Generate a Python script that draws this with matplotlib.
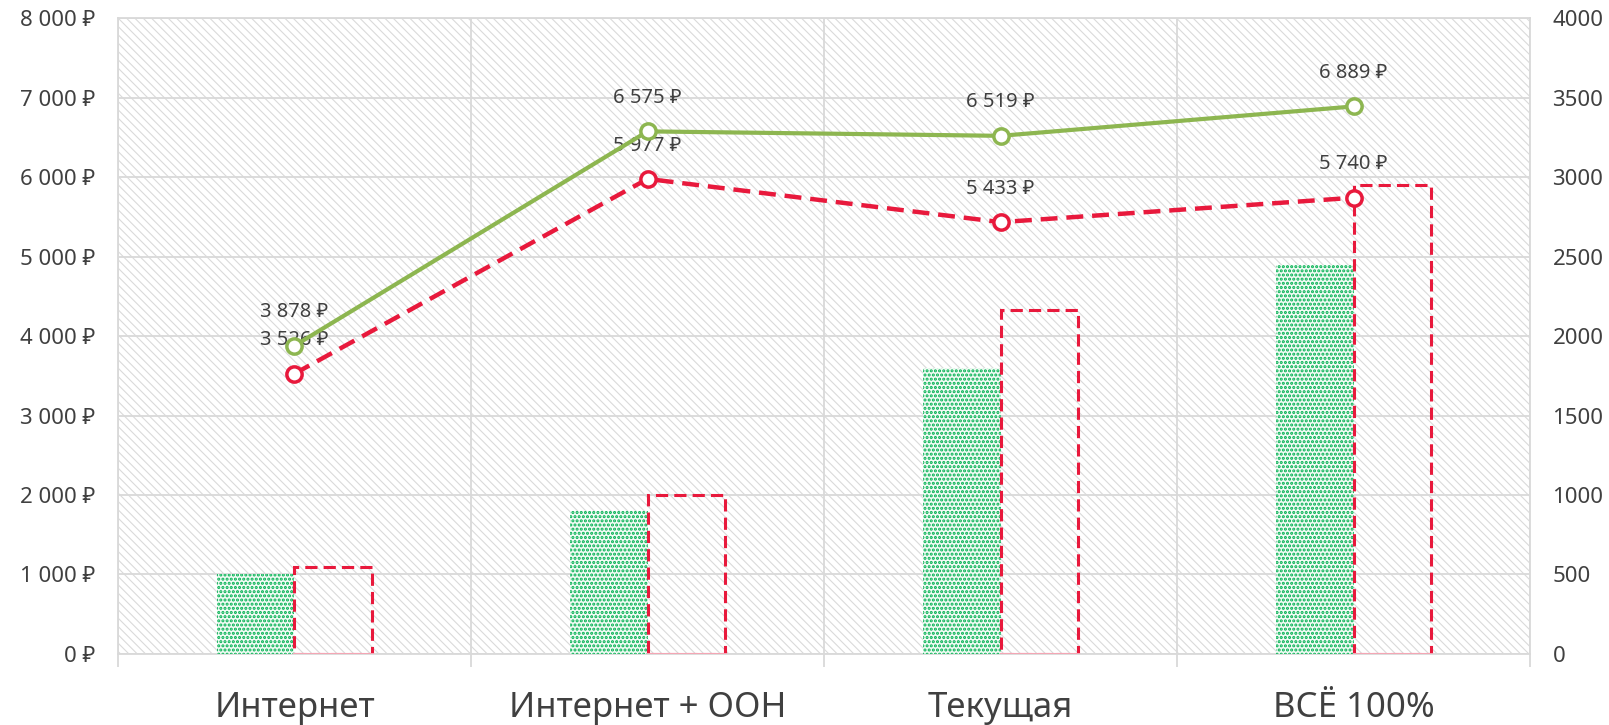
import matplotlib.pyplot as plt
from matplotlib.patches import Rectangle
from matplotlib.ticker import FixedLocator

plt.rcParams['font.family'] = ['Noto Sans', 'DejaVu Sans']
plt.rcParams['hatch.linewidth'] = 0.8

# data
categories = ["Интернет", "Интернет + ООН", "Текущая", "ВСЁ 100%"]
green_bars = [500, 900, 1800, 2450]      # right axis
red_bars = [550, 1000, 2165, 2950]       # right axis
green_line = [3878, 6575, 6519, 6889]    # left axis, ₽
red_line = [3526, 5977, 5433, 5740]      # left axis, ₽

GREEN_BAR = "#00B050"
GREEN_LINE = "#8DB650"
RED = "#E8193C"
GRID = "#D9D9D9"
TXT = "#404040"

def rub(v):
    return f"{v:,.0f}".replace(",", " ") + " ₽"

fig = plt.figure(figsize=(16.09, 7.25), dpi=100)
ax = fig.add_axes([0.0733, 0.098, 0.8777, 0.877])   # bars, values on right side
ax2 = ax.twinx()                                     # lines, values on left side

x = list(range(len(categories)))
w = 0.22

# hatched background
bg = Rectangle((0, 0), 1, 1, transform=ax.transAxes, facecolor="white",
               edgecolor="#DADADA", hatch="\\\\\\\\", linewidth=0, zorder=0)
ax.add_patch(bg)

gb = ax.bar([i - w / 2 for i in x], green_bars, width=w, facecolor="#F2FBF5",
            edgecolor=GREEN_BAR, hatch="....", linewidth=0, zorder=3)
for p in gb:
    if hasattr(p, "set_hatch_linewidth"):
        p.set_hatch_linewidth(1.5)
rb = ax.bar([i + w / 2 for i in x], red_bars, width=w, facecolor="none",
            edgecolor=RED, linestyle=(0, (4, 2)), linewidth=2.2, zorder=3)
# lighter bottom edge of the dashed boxes
for i in x:
    ax.plot([i, i + w], [0, 0], color="#F4A6B4", linewidth=2.2, zorder=4)

ax.set_xlim(-0.5, len(categories) - 0.5)
ax.set_ylim(0, 4000)
ax.set_yticks(range(0, 4001, 500))
ax.yaxis.tick_right()
ax.yaxis.set_label_position("right")
ax.grid(axis="y", color=GRID, linewidth=1.3, zorder=1)
ax.set_axisbelow(False)

ax.set_xticks(x)
ax.set_xticklabels(categories, fontsize=25, color=TXT)
ax.xaxis.set_minor_locator(FixedLocator([i - 0.5 for i in range(len(categories) + 1)]))
ax.tick_params(axis="x", which="major", length=0, pad=27)
ax.tick_params(axis="x", which="minor", length=9, color=GRID, width=1.3)
ax.grid(axis="x", which="minor", color=GRID, linewidth=1.3)
ax.tick_params(axis="y", length=0, labelsize=16, labelcolor=TXT, pad=16)
for s in ax.spines.values():
    s.set_color(GRID)
    s.set_linewidth(1.3)

# lines
ax2.plot(x, green_line, color=GREEN_LINE, linewidth=3, marker="o", markersize=11,
         markerfacecolor="white", markeredgewidth=2.5, zorder=5)
ax2.plot(x, red_line, color=RED, linewidth=3.2, linestyle=(0, (3.8, 2)), marker="o",
         markersize=11, markerfacecolor="white", markeredgewidth=2.5, zorder=5)
for i in x:
    ax2.annotate(rub(green_line[i]), (i, green_line[i]), xytext=(0, 24),
                 textcoords="offset points", ha="center", va="center",
                 fontsize=14.5, color=TXT)
    ax2.annotate(rub(red_line[i]), (i, red_line[i]), xytext=(0, 24),
                 textcoords="offset points", ha="center", va="center",
                 fontsize=14.5, color=TXT)

ax2.set_ylim(0, 8000)
ax2.set_yticks(range(0, 8001, 1000))
ax2.set_yticklabels([rub(v) for v in range(0, 8001, 1000)])
ax2.yaxis.tick_left()
ax2.tick_params(axis="y", length=0, labelsize=16, labelcolor=TXT, pad=16)
for s in ax2.spines.values():
    s.set_visible(False)

fig.savefig("out.png", dpi=100)
